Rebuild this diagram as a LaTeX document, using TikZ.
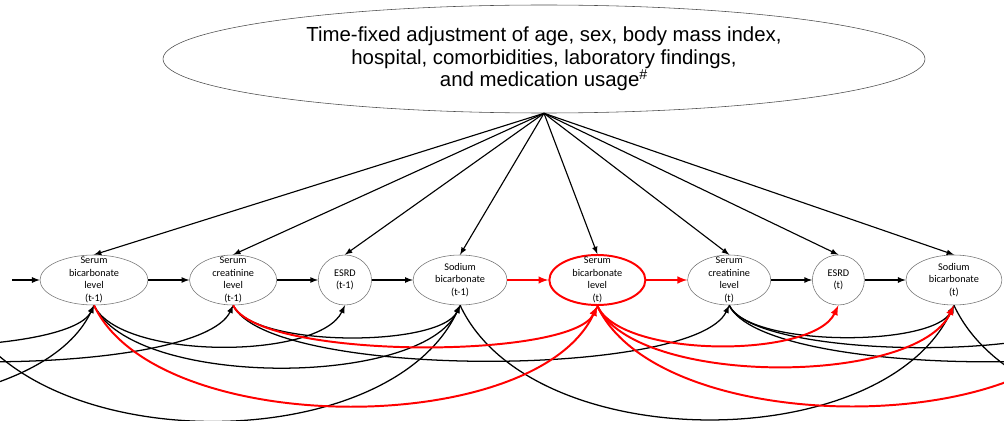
\documentclass[tikz,border=0pt]{standalone}
\usepackage{fontspec}
\setmainfont{Liberation Sans}
\newfontfamily\nodefont{Carlito}
\usetikzlibrary{shapes,arrows,calc,positioning}

\begin{document}
\begin{tikzpicture}[node distance=1.025cm,
  var/.style={draw=black!55,ellipse,inner sep=0pt,minimum height=1.25cm},
  every label/.style={font=\nodefont\fontsize{7.3}{8.9}\selectfont,align=center,inner sep=0pt},
  link/.style={-latex,line width=0.9pt},
  hot/.style={link,red,line width=1.4pt},
  lag/.style={out=-65,in=-115}]

  \useasboundingbox (0,0) rectangle (25.1,10.5);
  \clip (0,0) rectangle (25.1,10.5);

  \node (top) [draw=black!70,ellipse,minimum width=19.05cm,minimum height=2.7cm,align=center,
    font=\fontsize{14.5}{16}\selectfont] at (13.6,9.025)
    {Time-fixed adjustment of age, sex, body mass index,\\hospital, comorbidities, laboratory findings,\\and medication usage\textsuperscript{\#}};

  % time t-1
  \node (bic1) [var,minimum width=2.7cm,label=center:{Serum\\bicarbonate\\level\\(t-1)}] at (2.35,3.5) {};
  \node (cre1) [var,minimum width=2.18cm,right=of bic1,label=center:{Serum\\creatinine\\level\\(t-1)}] {};
  \node (esrd1) [var,minimum width=1.33cm,right=of cre1,label=center:{ESRD\\(t-1)}] {};
  \node (sod1) [var,minimum width=2.35cm,right=of esrd1,label=center:{Sodium\\bicarbonate\\(t-1)}] {};
  % time t
  \node (bic2) [var,draw=red,line width=1.4pt,minimum width=2.4cm,right=of sod1,label=center:{Serum\\bicarbonate\\level\\(t)}] {};
  \node (cre2) [var,minimum width=2.08cm,right=of bic2,label=center:{Serum\\creatinine\\level\\(t)}] {};
  \node (esrd2) [var,minimum width=1.3cm,right=of cre2,label=center:{ESRD\\(t)}] {};
  \node (sod2) [var,minimum width=2.4cm,right=of esrd2,label=center:{Sodium\\bicarbonate\\(t)}] {};

  % nodes outside the picture
  \coordinate (enter) at (0.3,3.5);
  \coordinate (bic0) at ($(bic1.south)+(-12.51,0)$);
  \coordinate (cre0) at ($(cre1.south)+(-12.51,0)$);
  \coordinate (sod0) at ($(sod1.south)+(-12.51,0)$);
  \coordinate (bic3) at ($(bic2.south)+(12.51,0)$);
  \coordinate (cre3) at ($(cre2.south)+(12.51,0)$);
  \coordinate (sod3) at ($(sod2.south)+(12.51,0)$);

  \draw[link,line width=0.8pt] (top.south) -- (bic1.north);
  \draw[link,line width=0.8pt] (top.south) -- (cre1.north);
  \draw[link,line width=0.8pt] (top.south) -- (esrd1.north);
  \draw[link,line width=0.8pt] (top.south) -- (sod1.north);
  \draw[link,line width=0.8pt] (top.south) -- (bic2.north);
  \draw[link,line width=0.8pt] (top.south) -- (cre2.north);
  \draw[link,line width=0.8pt] (top.south) -- (esrd2.north);
  \draw[link,line width=0.8pt] (top.south) -- (sod2.north);

  \draw[link] (enter) -- (bic1);
  \draw[link] (bic1) -- (cre1);
  \draw[link] (cre1) -- (esrd1);
  \draw[link] (esrd1) -- (sod1);
  \draw[hot] (sod1) -- (bic2);
  \draw[hot] (bic2) -- (cre2);
  \draw[link] (cre2) -- (esrd2);
  \draw[link] (esrd2) -- (sod2);

  % lagged effects
  \draw[link] (bic0) to[lag,looseness=0.75] (bic1.south);
  \draw[link] (cre0) to[lag,looseness=0.42] (bic1.south);
  \draw[link] (cre0) to[lag,looseness=0.42] (cre1.south);
  \draw[link] (sod0) to[lag,looseness=0.87] (sod1.south);
  \draw[link] (bic1.south) to[lag,looseness=0.62] (esrd1.south);
  \draw[link] (bic1.south) to[lag,looseness=0.64] (sod1.south);
  \draw[link] (cre1.south) to[lag,looseness=0.53] (sod1.south);
  \draw[link] (cre1.south) to[lag,looseness=0.42] (cre2.south);
  \draw[link] (sod1.south) to[lag,looseness=0.87] (sod2.south);
  \draw[link] (cre2.south) to[lag,looseness=0.53] (sod2.south);
  \draw[link] (cre2.south) to[lag,looseness=0.42] (bic3);
  \draw[link] (cre2.south) to[lag,looseness=0.42] (cre3);
  \draw[link] (sod2.south) to[lag,looseness=0.87] (sod3);
  \draw[hot] (bic1.south) to[lag,looseness=0.75] (bic2.south);
  \draw[hot] (cre1.south) to[lag,looseness=0.42] (bic2.south);
  \draw[hot] (bic2.south) to[lag,looseness=0.62] (esrd2.south);
  \draw[hot] (bic2.south) to[lag,looseness=0.64] (sod2.south);
  \draw[hot] (bic2.south) to[lag,looseness=0.75] (bic3);
\end{tikzpicture}
\end{document}
